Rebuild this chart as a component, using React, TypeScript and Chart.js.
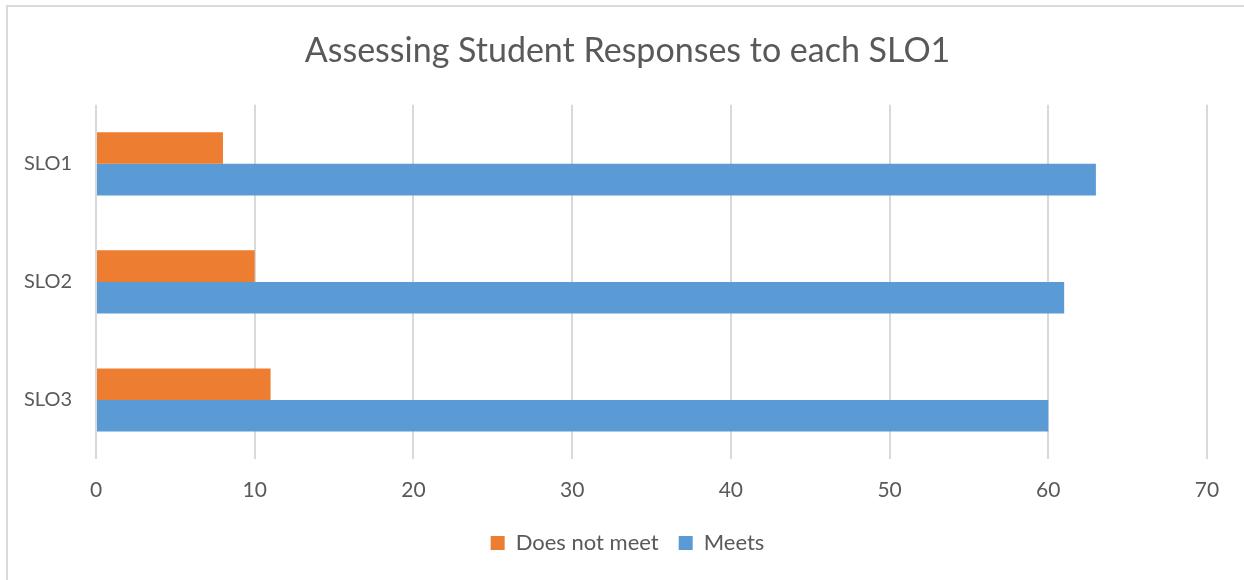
import React, { useEffect, useRef } from "react";
import { Chart, registerables } from "chart.js";

Chart.register(...registerables);

const categories: string[] = ["SLO1", "SLO2", "SLO3"];
const doesNotMeet: number[] = [8, 10, 11];
const meets: number[] = [63, 61, 60];
const seriesNames: string[] = ["Does not meet", "Meets"];
const chartTitle = "Assessing Student Responses to each SLO1";
const xMin = 0;
const xMax = 70;
const xStep = 10;

const TEXT = "#595959";
const GRID = "#d9d9d9";
const FONT = "Lato, 'Open Sans', sans-serif";

export default function App() {
  const canvasRef = useRef<HTMLCanvasElement | null>(null);

  useEffect(() => {
    const el = canvasRef.current;
    if (!el) return;
    const chart = new Chart(el, {
      type: "bar",
      data: {
        labels: categories,
        datasets: [
          {
            label: seriesNames[0],
            data: doesNotMeet,
            backgroundColor: "#ED7D31",
            categoryPercentage: 0.535,
            barPercentage: 1,
          },
          {
            label: seriesNames[1],
            data: meets,
            backgroundColor: "#5B9BD5",
            categoryPercentage: 0.535,
            barPercentage: 1,
          },
        ],
      },
      options: {
        indexAxis: "y",
        responsive: false,
        animation: false,
        maintainAspectRatio: false,
        layout: { padding: { top: 21, right: 0, left: 11, bottom: 16 } },
        plugins: {
          title: {
            display: true,
            text: chartTitle,
            color: TEXT,
            font: { family: FONT, size: 34, weight: "normal" },
            padding: { top: 10, bottom: 33 },
          },
          legend: {
            position: "bottom",
            labels: {
              color: TEXT,
              font: { family: FONT, size: 22 },
              boxWidth: 14,
              boxHeight: 14,
              padding: 20,
            },
          },
          tooltip: { enabled: false },
        },
        scales: {
          x: {
            min: xMin,
            max: xMax,
            ticks: {
              stepSize: xStep,
              color: TEXT,
              font: { family: FONT, size: 21 },
              padding: 19,
            },
            grid: { color: GRID, lineWidth: 2, drawTicks: false },
            border: { display: false },
            afterFit: (scale: any) => {
              scale.height = 53;
            },
          },
          y: {
            ticks: {
              color: TEXT,
              font: { family: FONT, size: 20 },
              padding: 24,
            },
            grid: { display: false, drawTicks: false },
            border: { display: false },
            afterFit: (scale: any) => {
              scale.width = 85;
            },
          },
          // empty right-hand margin so the plot ends at the 70 gridline
          yRight: {
            type: "category",
            position: "right",
            labels: categories,
            ticks: { display: false },
            grid: { display: false, drawTicks: false },
            border: { display: false },
            afterFit: (scale: any) => {
              scale.width = 37;
            },
          },
        },
      },
    });
    return () => chart.destroy();
  }, []);

  return (
    <div
      style={{
        position: "fixed",
        left: 0,
        top: 0,
        width: 1244,
        height: 580,
        overflow: "hidden",
        background: "#ffffff",
      }}
    >
      <div
        style={{
          position: "absolute",
          left: 6,
          top: 5,
          width: 1400,
          height: 700,
          border: `2px solid ${GRID}`,
          boxSizing: "border-box",
        }}
      />
      <canvas
        ref={canvasRef}
        width={1244}
        height={580}
        style={{ position: "absolute", left: 0, top: 0 }}
      />
    </div>
  );
}
